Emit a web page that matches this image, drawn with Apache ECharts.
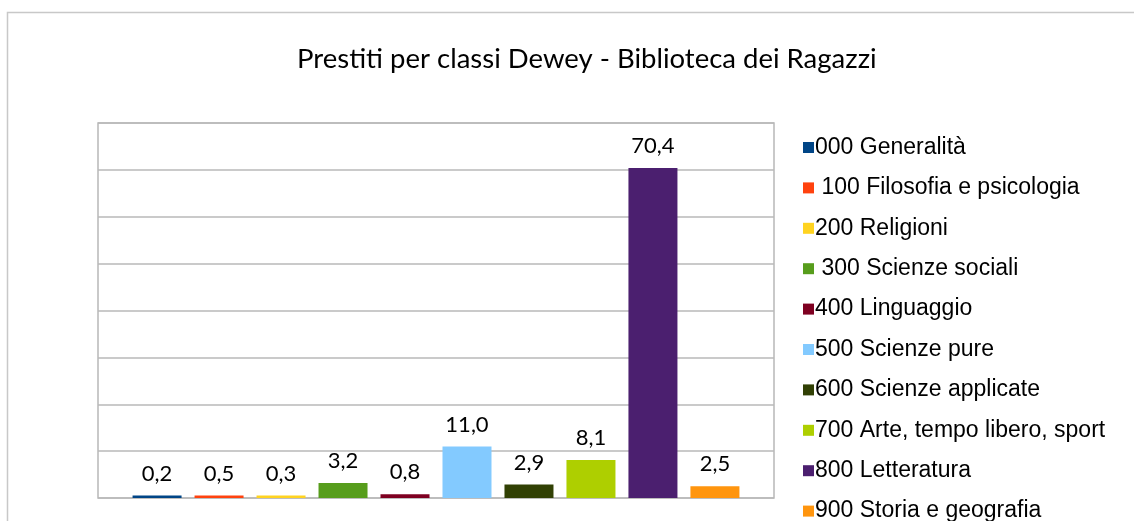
<!DOCTYPE html>
<html style="height: 100%">
   <head>
       <meta charset="utf-8">
   </head>
   <body style="height: 100%; margin: 0; background: #fff">
       <div id="container" style="height: 100%"></div>
       <script type="text/javascript" src="https://cdn.jsdelivr.net/npm/echarts@6/dist/echarts.min.js"></script>
       <script type="text/javascript">
var classNames = ['000 Generalità', ' 100 Filosofia e psicologia', '200 Religioni', ' 300 Scienze sociali',
    '400 Linguaggio', '500 Scienze pure', '600 Scienze applicate', '700 Arte, tempo libero, sport',
    '800 Letteratura', '900 Storia e geografia'];
var loanValues = [0.2, 0.5, 0.3, 3.2, 0.8, 11.0, 2.9, 8.1, 70.4, 2.5];
var classColors = ['#004586', '#ff420e', '#ffd320', '#579d1c', '#7e0021',
    '#83caff', '#314004', '#aecf00', '#4b1f6f', '#ff950e'];

var dom = document.getElementById("container");
var myChart = echarts.init(dom);
var titleFont = 'Lato';

var series = classNames.map(function (name, i) {
    return {
        name: name,
        type: 'bar',
        data: [loanValues[i]],
        barWidth: 49,
        barGap: '26.5%',
        barMinHeight: 2.5,
        itemStyle: {color: classColors[i]},
        label: {
            show: true,
            position: 'top',
            distance: 11,
            color: '#000',
            fontFamily: titleFont,
            fontSize: 22,
            formatter: function (p) {
                return p.value.toFixed(1).replace('.', ',');
            }
        }
    };
});

var option = {
    animation: false,
    backgroundColor: '#fff',
    graphic: [{
        type: 'rect',
        shape: {x: 7.5, y: 12.5, width: 1200, height: 600},
        style: {fill: 'none', stroke: '#c8c8c8', lineWidth: 1.5},
        silent: true
    }],
    title: {
        text: 'Prestiti per classi Dewey - Biblioteca dei Ragazzi',
        left: 292,
        top: 40,
        textStyle: {
            fontFamily: titleFont,
            fontSize: 27.5,
            fontWeight: 'normal',
            color: '#000'
        }
    },
    legend: {
        orient: 'vertical',
        left: 798,
        top: 131,
        height: 440,
        icon: 'rect',
        itemWidth: 11,
        itemHeight: 11,
        itemGap: 17.4,
        textStyle: {
            fontFamily: 'Liberation Sans',
            fontSize: 23,
            lineHeight: 22,
            color: '#000',
            padding: [0, 0, 0, -4]
        },
        data: classNames
    },
    grid: {
        left: 98,
        top: 123,
        width: 676,
        height: 375,
        show: true,
        borderColor: '#b8b8b8',
        borderWidth: 1.5
    },
    xAxis: {
        type: 'category',
        data: [''],
        axisLine: {show: false},
        axisTick: {show: false},
        axisLabel: {show: false}
    },
    yAxis: {
        type: 'value',
        min: 0,
        max: 80,
        interval: 10,
        axisLabel: {show: false},
        axisLine: {show: false},
        axisTick: {show: false},
        splitLine: {lineStyle: {color: '#b8b8b8', width: 1.5}}
    },
    series: series
};

if (option && typeof option === "object") {
    myChart.setOption(option, true);
}
       </script>
   </body>
</html>
